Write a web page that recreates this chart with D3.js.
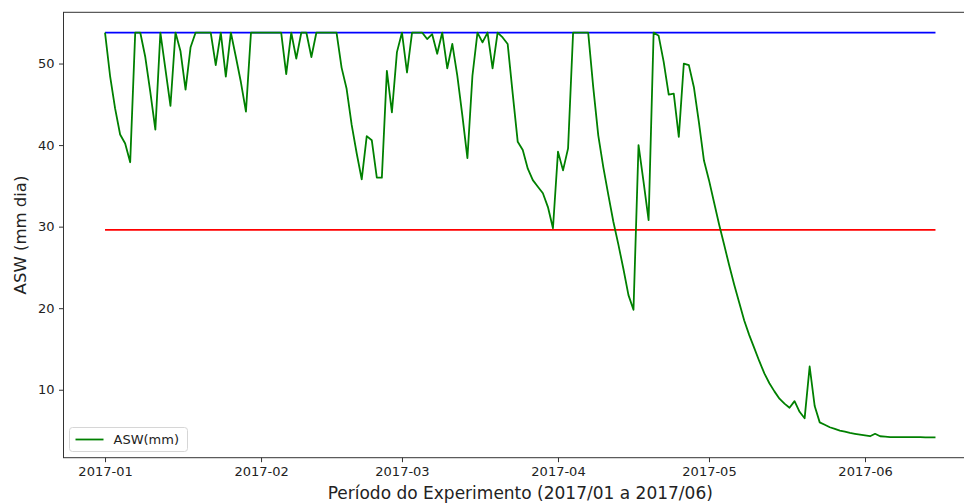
<!DOCTYPE html>
<html>
<head>
<meta charset="utf-8">
<script src="https://cdn.jsdelivr.net/npm/d3@7/dist/d3.min.js"></script>
<style>
  html, body { margin: 0; padding: 0; background: #fff; }
  svg { display: block; font-family: "DejaVu Sans", sans-serif; }
</style>
</head>
<body>
<svg id="chart" width="964" height="504"></svg>
<script>
// ---- data ----
const startDate = "2017-01-01";   // first daily observation
const asw = [
  53.8, 48.5, 44.5, 41.3, 40.2, 37.9, 53.8, 53.8, 50.8, 46.5,
  41.9, 53.8, 49.3, 44.8, 53.8, 51.5, 46.8, 52.0, 53.8, 53.8,
  53.8, 53.8, 49.8, 53.8, 48.4, 53.8, 50.8, 47.7, 44.1, 53.8,
  53.8, 53.8, 53.8, 53.8, 53.8, 53.8, 48.7, 53.8, 50.6, 53.8,
  53.8, 50.8, 53.8, 53.8, 53.8, 53.8, 53.8, 49.5, 46.9, 42.5,
  39.0, 35.8, 41.1, 40.6, 36.0, 36.0, 49.1, 44.0, 51.4, 53.8,
  48.9, 53.8, 53.8, 53.8, 53.0, 53.6, 51.2, 53.8, 49.4, 52.4,
  48.5, 43.6, 38.4, 48.5, 53.8, 52.6, 53.8, 49.4, 53.8, 53.2,
  52.4, 46.3, 40.4, 39.4, 37.1, 35.7, 34.9, 34.1, 32.4, 29.8,
  39.2, 36.9, 39.6, 53.8, 53.8, 53.8, 53.8, 47.1, 41.2, 37.3,
  33.9, 30.6, 27.8, 24.8, 21.6, 19.8, 40.0, 35.5, 30.8, 53.8,
  53.4, 50.2, 46.2, 46.3, 41.0, 50.0, 49.8, 47.1, 42.8, 38.1,
  35.7, 33.0, 30.3, 27.8, 25.3, 22.9, 20.7, 18.5, 16.7, 15.1,
  13.5, 12.0, 10.8, 9.8, 8.9, 8.3, 7.8, 8.6, 7.3, 6.5,
  12.85, 8.0, 6.0, 5.7, 5.4, 5.2, 5.0, 4.85, 4.7, 4.6,
  4.5, 4.4, 4.3, 4.6, 4.3, 4.25, 4.2, 4.2, 4.2, 4.2,
  4.2, 4.2, 4.2, 4.15, 4.15, 4.15
];
const upperLimit = 53.8;   // blue line
const lowerLimit = 29.6;   // red line
const xTickLabels = ["2017-01", "2017-02", "2017-03", "2017-04", "2017-05", "2017-06"];
const yTickValues = [10, 20, 30, 40, 50];
const seriesLabel = "ASW(mm)";
const xTitle = "Período do Experimento (2017/01 a 2017/06)";
const yTitle = "ASW (mm dia)";

// ---- layout ----
const svg = d3.select("#chart");
const plot = { left: 63.5, right: 977, top: 12.3, bottom: 457.7 };

const parse = d3.timeParse("%Y-%m-%d");
const t0 = parse(startDate);
const records = asw.map((v, i) => ({ date: d3.timeDay.offset(t0, i), value: v }));

const xExt = d3.extent(records, d => d.date);
const span = xExt[1] - xExt[0];
const x = d3.scaleTime()
  .domain([new Date(+xExt[0] - span * 0.05), new Date(+xExt[1] + span * 0.05)])
  .range([plot.left, plot.right]);

const yMin = d3.min(records, d => d.value), yMax = d3.max(records, d => d.value);
const yPad = (yMax - yMin) * 0.05;
const y = d3.scaleLinear()
  .domain([yMin - yPad, yMax + yPad])
  .range([plot.bottom, plot.top]);

const axisColor = "#333";

// frame
svg.append("rect")
  .attr("x", plot.left).attr("y", plot.top)
  .attr("width", plot.right - plot.left).attr("height", plot.bottom - plot.top)
  .attr("fill", "none").attr("stroke", axisColor).attr("stroke-width", 1);

// x axis
const xTickDates = xTickLabels.map(s => d3.timeParse("%Y-%m")(s));
const xAxis = d3.axisBottom(x)
  .tickValues(xTickDates)
  .tickFormat((d, i) => xTickLabels[i])
  .tickSize(4.5).tickPadding(4.5);
const gx = svg.append("g").attr("transform", `translate(0,${plot.bottom})`).call(xAxis);
gx.select(".domain").remove();
gx.selectAll("line").attr("stroke", axisColor);
gx.selectAll("text").attr("fill", "#222").style("font-size", "13px")
  .style("font-family", "DejaVu Sans, sans-serif");

// y axis
const yAxis = d3.axisLeft(y).tickValues(yTickValues).tickFormat(d3.format("d"))
  .tickSize(4.5).tickPadding(4.5);
const gy = svg.append("g").attr("transform", `translate(${plot.left},0)`).call(yAxis);
gy.select(".domain").remove();
gy.selectAll("line").attr("stroke", axisColor);
gy.selectAll("text").attr("fill", "#222").style("font-size", "13px")
  .style("font-family", "DejaVu Sans, sans-serif");

// clip
svg.append("clipPath").attr("id", "clip").append("rect")
  .attr("x", plot.left).attr("y", plot.top)
  .attr("width", plot.right - plot.left).attr("height", plot.bottom - plot.top);
const g = svg.append("g").attr("clip-path", "url(#clip)");

// threshold lines
[[upperLimit, "#0000ff"], [lowerLimit, "#ff0000"]].forEach(([v, c]) => {
  g.append("line")
    .attr("x1", x(xExt[0])).attr("x2", x(xExt[1]))
    .attr("y1", y(v)).attr("y2", y(v))
    .attr("stroke", c).attr("stroke-width", 1.8);
});

// series
g.append("path").datum(records)
  .attr("fill", "none").attr("stroke", "#008000").attr("stroke-width", 1.8)
  .attr("stroke-linejoin", "round")
  .attr("d", d3.line().x(d => x(d.date)).y(d => y(d.value)));

// titles
svg.append("text").attr("x", (plot.left + plot.right) / 2).attr("y", 499)
  .attr("text-anchor", "middle").style("font-size", "17px").attr("fill", "#222")
  .text(xTitle);
svg.append("text").attr("transform", `translate(26,${(plot.top + plot.bottom) / 2}) rotate(-90)`)
  .attr("text-anchor", "middle").style("font-size", "16.5px").attr("fill", "#222")
  .text(yTitle);

// legend
const lg = svg.append("g").attr("transform", "translate(69.5,427.5)");
lg.append("rect").attr("width", 118).attr("height", 24).attr("rx", 3)
  .attr("fill", "#fff").attr("fill-opacity", 0.8).attr("stroke", "#d6d6d6");
lg.append("line").attr("x1", 6).attr("x2", 34).attr("y1", 12).attr("y2", 12)
  .attr("stroke", "#008000").attr("stroke-width", 1.8);
lg.append("text").attr("x", 44).attr("y", 16.5).style("font-size", "13px")
  .attr("fill", "#222").text(seriesLabel);
</script>
</body>
</html>
